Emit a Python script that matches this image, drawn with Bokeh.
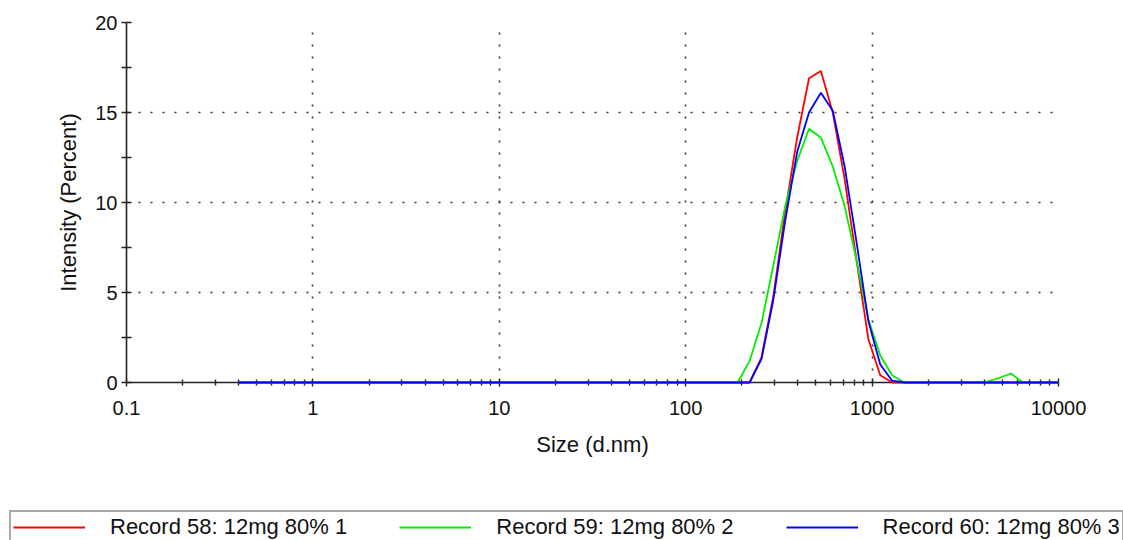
from bokeh.plotting import figure
from bokeh.models import (Range1d, FixedTicker, CustomJSTickFormatter, Legend, LegendItem)
from bokeh.embed import file_html
from bokeh.resources import INLINE

# Size bins (d.nm)
sizes = [0.4, 0.4632, 0.5365, 0.6213, 0.7195, 0.8332, 0.9649, 1.117, 1.294, 1.499,
         1.736, 2.010, 2.328, 2.696, 3.122, 3.615, 4.187, 4.849, 5.615, 6.503,
         7.531, 8.721, 10.10, 11.70, 13.54, 15.69, 18.17, 21.04, 24.36, 28.21,
         32.67, 37.84, 43.82, 50.75, 58.77, 68.06, 78.82, 91.28, 105.7, 122.4,
         141.8, 164.2, 190.1, 220.2, 255.0, 295.3, 342.0, 396.1, 458.7, 531.2,
         615.1, 712.4, 825.0, 955.4, 1106, 1281, 1484, 1718, 1990, 2305,
         2669, 3091, 3580, 4145, 4801, 5560, 6439, 7456, 8635, 10000]

# Intensity (Percent)
record58 = [0.0] * 43 + [0.0, 1.4, 4.8, 9.5, 13.6, 16.9, 17.3, 15.0, 11.3, 6.8, 2.4, 0.4, 0.0] + [0.0] * 14
record59 = [0.0] * 42 + [0.0, 1.2, 3.3, 6.5, 9.8, 12.3, 14.1, 13.6, 12.0, 9.8, 6.8, 3.5, 1.5, 0.4, 0.0] \
           + [0.0] * 6 + [0.05, 0.25, 0.5, 0.0] + [0.0] * 3
record60 = [0.0] * 43 + [0.0, 1.3, 4.6, 9.0, 12.8, 15.0, 16.1, 15.1, 12.0, 7.8, 3.4, 1.0, 0.1, 0.0] + [0.0] * 13

series_labels = ["Record 58: 12mg 80% 1", "Record 59: 12mg 80% 2", "Record 60: 12mg 80% 3"]
series_colors = ["#ff0000", "#00ee00", "#0000ff"]

x_ticks = [0.1, 1, 10, 100, 1000, 10000]
x_tick_labels = ["0.1", "1", "10", "100", "1000", "10000"]
y_ticks = [0, 5, 10, 15, 20]
x_minor = [k * t for t in [0.1, 1, 10, 100, 1000] for k in range(2, 10)]
y_minor = [2.5, 7.5, 12.5, 17.5]

FONT = "Liberation Sans"

p = figure(width=1123, height=505, x_axis_type="log",
           x_range=Range1d(0.1, 10000), y_range=Range1d(0, 20),
           output_backend="svg", toolbar_location=None,
           min_border_left=126, min_border_right=65,
           min_border_top=22, min_border_bottom=123)
p.outline_line_color = None
p.background_fill_color = "white"
p.border_fill_color = "white"

for ys, c in zip([record58, record59, record60], series_colors):
    r = p.line(sizes, ys, line_color=c, line_width=1.8)
    r.level = "overlay"

# axes
p.xaxis.ticker = FixedTicker(ticks=x_ticks, minor_ticks=x_minor)
p.xaxis.formatter = CustomJSTickFormatter(args=dict(xt=x_ticks, xl=x_tick_labels), code="""
const i = xt.findIndex(t => Math.abs(Math.log10(t) - Math.log10(tick)) < 1e-6);
return i >= 0 ? xl[i] : '';
""")
p.yaxis.ticker = FixedTicker(ticks=y_ticks, minor_ticks=y_minor)

for ax in [p.xaxis[0], p.yaxis[0]]:
    ax.axis_line_color = "#222222"
    ax.axis_line_width = 1.6
    ax.major_tick_line_color = "#222222"
    ax.minor_tick_line_color = "#222222"
    ax.major_tick_line_width = 1.4
    ax.minor_tick_line_width = 1.4
    ax.major_label_text_font = FONT
    ax.major_label_text_font_size = "20px"
    ax.major_label_text_color = "#111111"
    ax.axis_label_text_font = FONT
    ax.axis_label_text_font_size = "22px"
    ax.axis_label_text_font_style = "normal"
    ax.axis_label_text_color = "#111111"

p.xaxis.major_tick_in = 4
p.xaxis.major_tick_out = 4
p.xaxis.minor_tick_in = 3
p.xaxis.minor_tick_out = 3
p.xaxis.major_label_standoff = 14
p.xaxis.axis_label = "Size (d.nm)"
p.xaxis.axis_label_standoff = 14

p.yaxis.major_tick_in = 5
p.yaxis.major_tick_out = 5
p.yaxis.minor_tick_in = 5
p.yaxis.minor_tick_out = 5
p.yaxis.major_label_standoff = 4
p.yaxis.axis_label = "Intensity (Percent)"
p.yaxis.axis_label_standoff = 11

# grid
for g in [p.xgrid[0], p.ygrid[0]]:
    g.grid_line_color = "#333333"
    g.grid_line_width = 1.6
    g.grid_line_dash = "2 10"
p.xgrid.ticker = FixedTicker(ticks=x_ticks[1:])
p.ygrid.ticker = FixedTicker(ticks=y_ticks[1:])

# legend strip (separate root so its frame spans the full width)
lf = figure(width=1123, height=35, output_backend="svg", toolbar_location=None,
            x_axis_location=None, y_axis_location=None,
            x_range=Range1d(0, 1), y_range=Range1d(0, 1),
            min_border_left=0, min_border_right=0, min_border_top=0, min_border_bottom=0)
lf.outline_line_color = None
lf.border_fill_color = "white"
lf.xgrid.visible = False
lf.ygrid.visible = False
leg_renderers = [lf.line(x=[-1], y=[-1], line_color=c, line_width=1.8) for c in series_colors]

legend = Legend(items=[LegendItem(label=lab, renderers=[r]) for lab, r in zip(series_labels, leg_renderers)],
                orientation="horizontal", location=(9, -4), margin=0,
                padding=2, spacing=52, glyph_width=72, glyph_height=20, label_standoff=25,
                label_text_font=FONT, label_text_font_size="22px", label_text_color="#111111",
                border_line_color="#555555", border_line_width=2,
                background_fill_color="white", background_fill_alpha=1.0)
lf.add_layout(legend, "center")

open("out.html", "w").write(file_html([p, lf], INLINE))
